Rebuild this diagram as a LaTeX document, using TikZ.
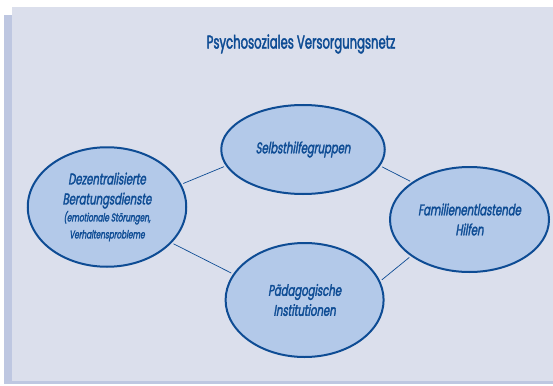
\documentclass[tikz,border=0pt]{standalone}
\usepackage{fontspec}
\newfontfamily\netzfont{Poppins}[FakeStretch=0.63,FakeBold=2]
\newfontfamily\ovalfont{Poppins}[FakeStretch=0.65,FakeSlant=0.16,FakeBold=2]
\usetikzlibrary{shapes.geometric}
\definecolor{panelfill}{HTML}{DBDFEC}
\definecolor{stripfill}{HTML}{BEC7E1}
\definecolor{ovalfill}{HTML}{B3C9E9}
\definecolor{netzblau}{HTML}{0E4C94}
\tikzset{
  oval/.style={ellipse, draw=netzblau, line width=2pt, fill=ovalfill, inner sep=0pt,
    text=netzblau, align=center, font=\ovalfont\fontsize{15.5}{20}\selectfont},
  link/.style={draw=netzblau, line width=0.7pt, shorten <=2pt, shorten >=2pt}
}
\begin{document}
\begin{tikzpicture}[x=1pt, y=-1pt]
\useasboundingbox (0, 0) rectangle (553, 385);

\fill[stripfill] (4, 15) rectangle (553, 384);
\fill[panelfill] (12, 7) rectangle (553, 381);

\node[text=netzblau, font=\netzfont\fontsize{18.5}{20}\selectfont] (titel) at (301, 44) {Psychosoziales Versorgungsnetz};

\node[oval, minimum width=158.5pt, minimum height=119.5pt] (beratung) at (107, 207)
  {Dezentralisierte\\Beratungsdienste\\[-3pt]{\fontsize{11.3}{17}\selectfont (emotionale St\"orungen,}\\[-3pt]{\fontsize{11.3}{17}\selectfont Verhaltensprobleme}};
\node[oval, minimum width=163.5pt, minimum height=89pt] (selbsthilfe) at (303, 149.5) {Selbsthilfegruppen};
\node[oval, minimum width=159pt, minimum height=105pt] (familie) at (469.5, 219.5) {Familienentlastende\\Hilfen};
\node[oval, minimum width=158pt, minimum height=114pt] (paedagogik) at (304.6, 300) {P\"adagogische\\Institutionen};

\draw[link] (beratung.17) -- (selbsthilfe.192);
\draw[link] (selbsthilfe.348) -- (familie.147);
\draw[link] (beratung.331) -- (paedagogik.160);
\draw[link] (paedagogik.14) -- (familie.212);

\end{tikzpicture}
\end{document}
